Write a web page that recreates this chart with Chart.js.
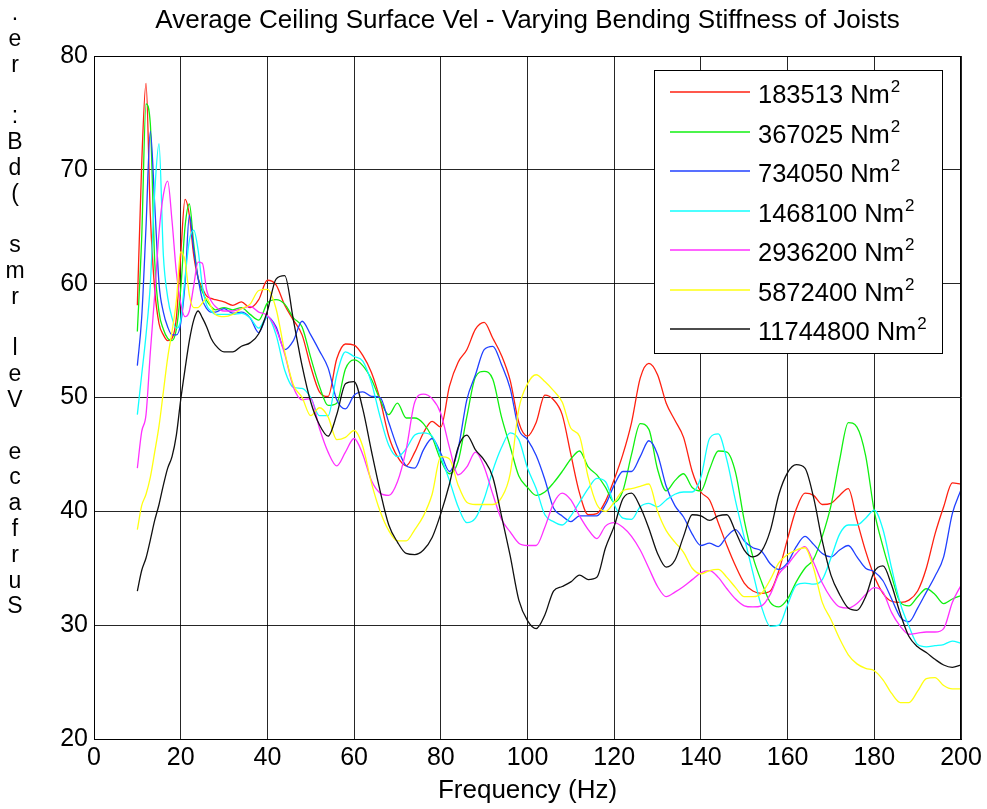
<!DOCTYPE html>
<html>
<head>
<meta charset="utf-8">
<title>Average Ceiling Surface Vel</title>
<script src="https://cdn.jsdelivr.net/npm/chart.js@4.4.1/dist/chart.umd.min.js"></script>
<style>
  html, body { margin: 0; padding: 0; background: #fff; }
  #wrap { position: relative; width: 987px; height: 809px; }
  #yLabel {
    position: absolute; left: 3px; top: 0; width: 24px;
    text-align: center; color: #000;
    font: 23px "Liberation Sans", Arial, sans-serif;
    line-height: 25.8px; white-space: pre;
  }
</style>
</head>
<body>
<div id="wrap">
  <canvas id="chart" width="987" height="809"></canvas>
  <div id="yLabel"></div>
</div>
<script>
const chartTitle = 'Average Ceiling Surface Vel - Varying Bending Stiffness of Joists';
const xLabel = 'Frequency (Hz)';
const yLabel = 'Surface Vel rms (dB: re.';

// stiffness values (Nm^2) used in the legend
const stiffness = ['183513', '367025', '734050', '1468100', '2936200', '5872400', '11744800'];
const lineColors = ['#ff2010', '#10f010', '#2040ff', '#10ffff', '#ff30ff', '#ffff10', '#101010'];

const freqs = [10, 11, 12, 13, 14, 15, 16, 17, 18, 19, 20, 21, 22, 23, 24, 25, 26, 27, 28,
  30, 32, 34, 36, 38, 40, 42, 44, 46, 48, 50, 52, 54, 56, 58, 60, 62, 64, 66, 68,
  70, 72, 74, 76, 78, 80, 82, 84, 86, 88, 90, 92, 94, 96, 98, 100, 102, 104, 106, 108,
  110, 112, 114, 116, 118, 120, 122, 124, 126, 128, 130, 132, 134, 136, 138, 140, 142, 144, 146, 148,
  150, 152, 154, 156, 158, 160, 162, 164, 166, 168, 170, 172, 174, 176, 178, 180, 182, 184, 186, 188,
  190, 192, 194, 196, 198, 200];

const vel183513 = [58.1, 70.5, 77.6, 66, 59.5, 56.5, 55.5, 55.0, 55.2, 57.0, 62.5, 67.4, 66, 62.5, 60.5, 59.6, 58.9, 58.7, 58.6,
  58.4, 58.1, 58.4, 57.9, 58.6, 60.3, 59.9, 58.1, 56.8, 55.5,
  52.7, 50.5, 50.1, 53.4, 54.7, 54.6, 53.7, 52.2, 49.8, 46.6,
  44.8, 44.0, 45.2, 46.9, 47.9, 47.4, 51, 53.1, 54.2, 56,
  56.6, 55.2, 53.7, 51.5, 47.8, 46.6, 47.8, 50.2, 49.8, 48.5,
  45, 41.6, 39.7, 39.8, 40.9, 42.8, 45, 47.8, 51.7, 53,
  52, 49.5, 48, 46.5, 43.5, 41.7, 41, 39, 37, 35.2,
  33.7, 33, 32.8, 33, 34.8, 37.6, 40.2, 41.6, 41.4, 40.6,
  40.7, 41.4, 42, 39.2, 36.5, 34.3, 32.8, 32.1, 32, 32.2,
  33, 35, 38, 40.4, 42.5, 42.4];

const vel367025 = [55.8, 64, 75.8, 74, 62, 57.5, 56, 55.2, 55, 56, 59.5, 65, 67, 63.5, 60.5, 59.3, 58.5, 58, 57.7,
  57.9, 57.7, 57.9, 57.3, 56.8, 58.3, 58.6, 58.2, 57, 56.2,
  53.5, 51, 49.3, 49.5, 52.5, 53.3, 52.8, 51.6, 49.8, 48.5,
  49.5, 48.2, 48.2, 47.7, 46.5, 44.5, 43.3, 44.4, 48.3, 51.8,
  52.3, 51.6, 48.3, 45.7, 43.1, 42.1, 41.4, 41.7, 42.5, 43.5,
  44.6, 45.3, 43.9, 43.2, 42.1, 40.8, 41.8, 45, 47.7, 47.2,
  43.7, 41.8, 42.7, 43.3, 42.1, 41.8, 43.7, 45.3, 45.2, 43.4,
  39.2, 36, 33.8, 32, 31.6, 32.3, 33.8, 35, 35.8, 37.8,
  40.5, 44.5, 47.8, 47.4, 44.9, 40, 36.9, 34.3, 32, 31.7,
  32.5, 33.2, 32.7, 31.9, 32.3, 32.6];

const vel734050 = [52.8, 57, 65, 73.4, 67, 60, 57.5, 56.2, 55.5, 55.5, 56.5, 60, 66, 63, 60.5, 58.6, 57.8, 57.5, 57.5,
  57.8, 57.4, 57.5, 57, 55.7, 57.1, 56.2, 54.2, 55, 56.7,
  55.5, 54.1, 52.6, 49.8, 49, 50.2, 50.5, 50.1, 50.0, 47.8,
  45.6, 44, 43.8, 45.4, 46.4, 45.1, 43.5, 45.5, 49.8, 52,
  54.2, 54.5, 52.9, 50.8, 47.2, 46.3, 44.9, 42.8, 40.3, 39.6,
  39.1, 39.6, 39.6, 39.6, 40.6, 42.3, 43.5, 43.5, 44.8, 46.2,
  45, 42.2, 40.5, 39.5, 38, 37, 37.2, 36.9, 37.8, 38.4,
  37.4, 36.8, 36.5, 35.4, 34.9, 35.5, 36.9, 37.8, 37.1, 36.3,
  36, 36.6, 37, 36, 35, 34.7, 33.9, 32.3, 30.7, 30.3,
  31.5, 32.9, 34.3, 36, 39.8, 41.9];

const vel1468100 = [48.5, 52, 55.5, 60, 68, 72.3, 62.5, 58.8, 57, 56.1, 56.8, 60.5, 63.8, 64.7, 63, 59.8, 58.1, 57.6, 57.3,
  57.3, 57.3, 57.4, 57, 56.1, 57.1, 55.5, 52.4, 50.9, 50.8,
  50, 48.4, 48.4, 52, 54, 53.6, 53.2, 51.3, 48.3, 45.8,
  44.8, 45.5, 46.7, 46.9, 46.6, 44.8, 42.7, 40.4, 39, 39.4,
  41.1, 43.6, 45.6, 46.9, 46.3, 43.8, 42, 39.7, 39.1, 38.8,
  39.6, 40.8, 42, 42.9, 42.6, 40.6, 39.4, 39.3, 40.4, 40.7,
  40.4, 41, 41.5, 41.7, 41.7, 43, 46.4, 46.8, 44.5, 40.9,
  37.7, 34.6, 31.6, 29.9, 30, 31.8, 33.5, 33.7, 33.6, 34,
  35.9, 38, 38.8, 38.8, 39.4, 40.1, 38.4, 35, 31.9, 29.9,
  28.3, 28.1, 28.2, 28.3, 28.6, 28.4];

const vel2936200 = [43.8, 47, 48.5, 54, 59, 64.5, 67.8, 69, 65.5, 61, 58.3, 57.1, 57.6, 59.8, 61.9, 61.8, 59.4, 58.5, 58,
  57.6, 57.6, 57.8, 58, 57.5, 57.2, 56, 53.8, 50.9, 49.8,
  49.9, 47.3, 45.2, 44, 45.2, 46.4, 45, 42.7, 41.6, 41.4,
  42.6, 45.4, 49.6, 50.3, 49.9, 48.6, 45.6, 43.2, 43.9, 45.2,
  43.9, 41.5, 39.3, 38.2, 37.2, 37, 37, 38.6, 40.7, 41.6,
  41, 39.6, 38.4, 37.6, 38.7, 39, 38.6, 37.8, 36.6, 35,
  33.4, 32.5, 32.9, 33.4, 34, 34.6, 34.8, 34.2, 33.2, 32.3,
  31.7, 31.6, 31.7, 32.7, 34.5, 35.3, 36.3, 36.9, 35.5, 33.7,
  32.4, 31.6, 31.5, 31.9, 32.7, 33.3, 32.9, 31.1, 29.9, 29.2,
  29.3, 29.4, 29.4, 29.7, 32, 33.5];

const vel5872400 = [38.4, 40.5, 41.5, 43, 45.2, 47.5, 50.5, 53.5, 55.8, 58.5, 62.8, 62, 59, 57.9, 57.9, 58.3, 58.7, 58, 57.3,
  57.1, 57.3, 57.8, 58.2, 59.4, 59.5, 57.8, 54, 51.1, 50,
  48.4, 49.1, 48.3, 46.3, 46.5, 47.1, 45.7, 42.5, 40, 38.3,
  37.4, 37.4, 38.4, 39.6, 41.5, 44.8, 44.6, 42.3, 40.8, 40.6,
  40.6, 40.6, 41.2, 43.3, 49, 51.2, 52, 51.4, 50.6, 49.6,
  47.3, 46.6, 43, 40.6, 40, 40.8, 41.8, 42, 42.2, 42.4,
  40, 38.3, 37.3, 36.4, 35, 34.5, 34.8, 34.9, 34.2, 33.3,
  32.5, 32.5, 32.8, 34, 35.5, 36.2, 36.6, 36.8, 35, 32,
  30.5, 28.8, 27.4, 26.6, 26.2, 26, 25.2, 24, 23.2, 23.2,
  24.2, 25.3, 25.4, 24.7, 24.4, 24.4];

const vel11744800 = [33, 34.8, 35.9, 37.5, 39.2, 40.6, 42.3, 43.8, 44.8, 46.7, 49.8, 52.5, 55, 56.8, 57.6, 57, 56.2, 55.2, 54.6,
  54, 54, 54.5, 54.8, 55.6, 57.6, 60.4, 60.7, 56.8, 52.8,
  49.6, 47.6, 46.6, 48.5, 51.2, 51.4, 49, 45.3, 41.8, 38.8,
  37.3, 36.3, 36.2, 36.6, 37.7, 39.8, 42.4, 45.6, 46.7, 45.4,
  44.5, 43, 39.6, 36.1, 32.2, 30.4, 29.7, 30.9, 33, 33.4,
  33.8, 34.4, 34, 34.2, 36.8, 38.7, 41.1, 41.6, 40.4, 38.5,
  36.3, 35.1, 35.7, 37.8, 39.7, 39.6, 39.2, 39.6, 39.7, 38.2,
  36.6, 36, 36.5, 38.3, 41.5, 43.4, 44.1, 43.8, 41.2, 37.4,
  34.4, 32.7, 31.5, 31.3, 32.5, 34.7, 35.2, 33.5, 31, 29,
  28.1, 27.6, 27, 26.5, 26.3, 26.5];

const seriesValues = [vel183513, vel367025, vel734050, vel1468100, vel2936200, vel5872400, vel11744800];

const fontFamily = '"Liberation Sans", Arial, Helvetica, sans-serif';

document.getElementById('yLabel').textContent = yLabel.split('').reverse().join('\n');

const datasets = seriesValues.map((values, i) => ({
  label: `${stiffness[i]} Nm2`,
  data: values.map((v, j) => ({ x: freqs[j], y: v })),
  borderColor: lineColors[i],
  borderWidth: 1.3,
  pointRadius: 0,
  fill: false,
  cubicInterpolationMode: 'monotone',
  order: seriesValues.length - i, // later series on top, like the original
}));

// frame round the axes, the title and the boxed legend
const matlabLook = {
  id: 'matlabLook',
  afterDraw(chart) {
    const { ctx, chartArea: area } = chart;
    ctx.save();
    ctx.strokeStyle = '#000';
    ctx.lineWidth = 1;
    ctx.strokeRect(area.left + 0.5, area.top + 0.5, area.right - area.left - 1, area.bottom - area.top);

    ctx.fillStyle = '#000';
    ctx.font = `26px ${fontFamily}`;
    ctx.textAlign = 'center';
    ctx.textBaseline = 'middle';
    ctx.fillText(chartTitle, (area.left + area.right) / 2, 21);

    const boxX = 654;
    const boxY = 70;
    ctx.fillStyle = '#fff';
    ctx.fillRect(boxX, boxY, 288, 283);
    ctx.strokeRect(boxX + 0.5, boxY + 0.5, 288, 283);
    ctx.textAlign = 'left';
    ctx.textBaseline = 'alphabetic';
    stiffness.forEach((s, i) => {
      const y = Math.round(92 + i * 39.5);
      ctx.strokeStyle = lineColors[i];
      ctx.lineWidth = 1.6;
      ctx.beginPath();
      ctx.moveTo(670, y);
      ctx.lineTo(750, y);
      ctx.stroke();
      ctx.fillStyle = '#000';
      ctx.font = `25.5px ${fontFamily}`;
      const text = `${s} Nm`;
      ctx.fillText(text, 758, y + 10.5);
      const w = ctx.measureText(text).width;
      ctx.font = `17px ${fontFamily}`;
      ctx.fillText('2', 758 + w + 1, y);
    });
    ctx.restore();
  },
};

const tickFont = { family: fontFamily, size: 25 };

// eslint-disable-next-line no-undef
const chart = new Chart(document.getElementById('chart'), {
  type: 'line',
  data: { datasets },
  options: {
    responsive: false,
    animation: false,
    events: [],
    layout: { padding: { left: 0, right: 26, top: 56, bottom: 0 } },
    plugins: {
      legend: { display: false },
      tooltip: { enabled: false },
      title: { display: false },
    },
    scales: {
      x: {
        type: 'linear',
        min: 0,
        max: 200,
        ticks: { stepSize: 20, color: '#000', font: tickFont, padding: 4, maxRotation: 0 },
        grid: { color: 'rgba(0,0,0,0.85)', drawTicks: false },
        border: { color: '#000' },
        title: {
          display: true,
          text: xLabel,
          color: '#000',
          font: { family: fontFamily, size: 26 },
          padding: { top: 0, bottom: 3 },
        },
        afterFit: (scale) => { scale.height = 70; },
      },
      y: {
        min: 20,
        max: 80,
        ticks: { stepSize: 10, color: '#000', font: tickFont, padding: 6 },
        grid: { color: 'rgba(0,0,0,0.85)', drawTicks: false },
        border: { color: '#000' },
        afterFit: (scale) => { scale.width = 94; },
      },
    },
  },
  plugins: [matlabLook],
});
</script>
</body>
</html>
